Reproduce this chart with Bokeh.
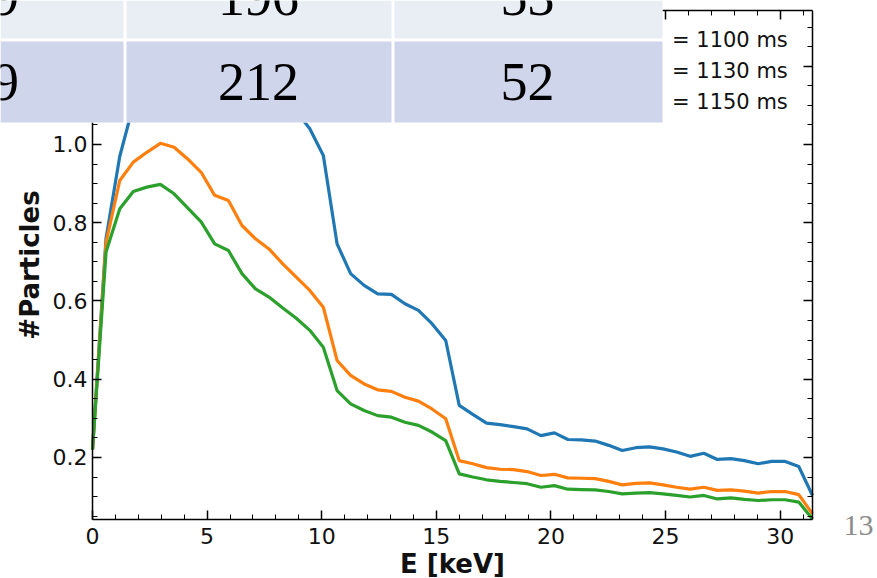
from bokeh.plotting import figure
from bokeh.models import (Range1d, LinearAxis, SingleIntervalTicker, BoxAnnotation,
                          Label, Legend, LegendItem, PrintfTickFormatter,
                          CustomJSTickFormatter)
from bokeh.embed import file_html
from bokeh.resources import INLINE

# ---------------- data ----------------
energy_keV = [0.0, 0.59, 1.19, 1.78, 2.37, 2.96, 3.56, 4.15, 4.74, 5.33,
              5.93, 6.52, 7.11, 7.70, 8.30, 8.89, 9.48, 10.07, 10.67, 11.26,
              11.85, 12.44, 13.04, 13.63, 14.22, 14.81, 15.41, 16.00, 16.59, 17.19,
              17.78, 18.37, 18.96, 19.56, 20.15, 20.74, 21.33, 21.93, 22.52, 23.11,
              23.70, 24.30, 24.89, 25.48, 26.07, 26.67, 27.26, 27.85, 28.44, 29.04,
              29.63, 30.22, 30.81, 31.41]

t1100 = [0.22, 0.76, 0.97, 1.10, 1.20, 1.27, 1.31, 1.32, 1.30, 1.26,
         1.24, 1.20, 1.17, 1.15, 1.12, 1.085, 1.04, 0.972, 0.746, 0.670,
         0.640, 0.618, 0.617, 0.593, 0.576, 0.542, 0.499, 0.333, 0.310, 0.288,
         0.284, 0.279, 0.273, 0.256, 0.263, 0.246, 0.245, 0.242, 0.231, 0.218,
         0.225, 0.227, 0.222, 0.214, 0.203, 0.211, 0.195, 0.197, 0.192, 0.184,
         0.190, 0.190, 0.177, 0.103]

t1130 = [0.22, 0.75, 0.908, 0.955, 0.980, 1.003, 0.993, 0.963, 0.929, 0.870,
         0.857, 0.793, 0.759, 0.733, 0.695, 0.661, 0.627, 0.584, 0.448, 0.410,
         0.388, 0.373, 0.369, 0.354, 0.344, 0.324, 0.299, 0.192, 0.184, 0.174,
         0.170, 0.169, 0.164, 0.154, 0.157, 0.148, 0.147, 0.146, 0.139, 0.130,
         0.134, 0.135, 0.130, 0.124, 0.119, 0.124, 0.116, 0.117, 0.114, 0.109,
         0.113, 0.113, 0.105, 0.056]

t1150 = [0.22, 0.725, 0.836, 0.880, 0.891, 0.898, 0.874, 0.838, 0.802, 0.746,
         0.729, 0.670, 0.631, 0.610, 0.582, 0.556, 0.525, 0.482, 0.371, 0.337,
         0.320, 0.307, 0.303, 0.290, 0.282, 0.265, 0.243, 0.158, 0.150, 0.143,
         0.139, 0.136, 0.133, 0.124, 0.128, 0.119, 0.118, 0.117, 0.113, 0.107,
         0.109, 0.110, 0.107, 0.103, 0.099, 0.103, 0.094, 0.097, 0.093, 0.090,
         0.092, 0.092, 0.086, 0.043]

series_labels = ["= 1100 ms", "= 1130 ms", "= 1150 ms"]
series_colors = ["#1f77b4", "#ff7f0e", "#2ca02c"]

# overlaid slide-table (partially visible)
table_row1 = ["9", "196", "53"]
table_row2 = ["9", "212", "52"]
page_number = "13"

# axes limits of the chart
X_MIN, X_MAX = 0.0, 31.41
Y_MIN, Y_MAX = 0.0415, 1.3425

# ---------------- layout (whole canvas is the frame; axes are pinned) ----------------
W, H = 877, 578
AX_L, AX_R, AX_T, AX_B = 92, 812, 10, 519          # pixel box of the chart axes
sx = (AX_R - AX_L) / (X_MAX - X_MIN)
sy = (AX_B - AX_T) / (Y_MAX - Y_MIN)
x_range = Range1d(X_MIN - AX_L / sx, X_MAX + (W - AX_R) / sx)
y_range = Range1d(Y_MIN - (H - AX_B) / sy, Y_MAX + AX_T / sy)

p = figure(width=W, height=H, output_backend="svg", toolbar_location=None,
           x_range=x_range, y_range=y_range,
           min_border=0, min_border_left=0, min_border_right=0,
           min_border_top=0, min_border_bottom=0,
           x_axis_label="E [keV]", y_axis_label="#Particles",
           background_fill_color="white", border_fill_color="white")
p.grid.visible = False
p.outline_line_color = None


def style_axis(ax, labels=True):
    ax.axis_line_color = "black"
    ax.axis_line_width = 1.5
    ax.major_tick_in = 9
    ax.major_tick_out = 0
    ax.minor_tick_in = 5
    ax.minor_tick_out = 0
    ax.major_tick_line_color = "black"
    ax.major_tick_line_width = 1.5
    ax.minor_tick_line_color = "black"
    ax.minor_tick_line_width = 1
    if labels:
        ax.major_label_text_font = "DejaVu Sans"
        ax.major_label_text_font_size = "22px"
        ax.major_label_text_color = "#111111"
        ax.axis_label_text_font = "DejaVu Sans"
        ax.axis_label_text_font_size = "26px"
        ax.axis_label_text_font_style = "bold"
        ax.axis_label_text_color = "#111111"
    else:
        ax.formatter = CustomJSTickFormatter(code="return ''")
        ax.major_label_standoff = 0


xa = p.xaxis[0]
ya = p.yaxis[0]
xa.ticker = SingleIntervalTicker(interval=5, num_minor_ticks=5)
ya.ticker = SingleIntervalTicker(interval=0.2, num_minor_ticks=4)
ya.formatter = PrintfTickFormatter(format="%.1f")
style_axis(xa)
style_axis(ya)
xa.fixed_location = Y_MIN
ya.fixed_location = X_MIN
xa.bounds = (X_MIN, X_MAX)
ya.bounds = (Y_MIN, Y_MAX)
xa.major_label_standoff = 8
xa.axis_label_standoff = 2
ya.major_label_standoff = 5
ya.axis_label_standoff = 5

top_ax = LinearAxis(ticker=SingleIntervalTicker(interval=5, num_minor_ticks=5),
                    fixed_location=Y_MAX, bounds=(X_MIN, X_MAX))
right_ax = LinearAxis(ticker=SingleIntervalTicker(interval=0.2, num_minor_ticks=4),
                      fixed_location=X_MAX, bounds=(Y_MIN, Y_MAX))
style_axis(top_ax, labels=False)
style_axis(right_ax, labels=False)
p.add_layout(top_ax, "above")
p.add_layout(right_ax, "right")

renderers = []
for ys, c in zip([t1100, t1130, t1150], series_colors):
    r = p.line(energy_keV, ys, line_color=c, line_width=3.2)
    renderers.append(r)

# legend: its line samples lie under the overlaid table in the reference, so
# only the label part is left visible
legend = Legend(items=[LegendItem(label=l, renderers=[r]) for l, r in zip(series_labels, renderers)],
                location=(670, 462), padding=0, margin=0, spacing=3,
                label_height=28, glyph_height=28, glyph_width=0, label_standoff=2,
                label_text_font="DejaVu Sans", label_text_font_size="21px",
                label_text_color="#111111",
                border_line_alpha=0, background_fill_alpha=0)
p.add_layout(legend)

# ---------------- overlaid table ----------------
def box(l, r, t, b, color):
    p.add_layout(BoxAnnotation(left=l, right=r, top=t, bottom=b,
                               left_units="canvas", right_units="canvas",
                               top_units="canvas", bottom_units="canvas",
                               fill_color=color, fill_alpha=1, line_color=None,
                               level="overlay"))

box(0, 662, 0, 122, "white")
col_edges = [(0, 123), (126, 391), (394, 662)]
for (l, r) in col_edges:
    box(l, r, 0, 38, "#E9EDF4")
    box(l, r, 41, 122, "#CFD5EA")

col_centers = [5, 258, 527]
for row, base in ((table_row1, -4), (table_row2, 81)):
    for txt, cx in zip(row, col_centers):
        p.add_layout(Label(x=cx, y=base, x_units="canvas", y_units="canvas", text=txt,
                           text_align="center", text_baseline="alphabetic",
                           text_font="Liberation Serif", text_font_size="54px",
                           text_color="black", level="overlay"))

p.add_layout(Label(x=858, y=525, x_units="canvas", y_units="canvas", text=page_number,
                   text_align="center", text_baseline="alphabetic",
                   text_font="Liberation Serif", text_font_size="30px",
                   text_color="#8c8c8c", level="overlay"))

open("out.html", "w").write(file_html(p, INLINE))
